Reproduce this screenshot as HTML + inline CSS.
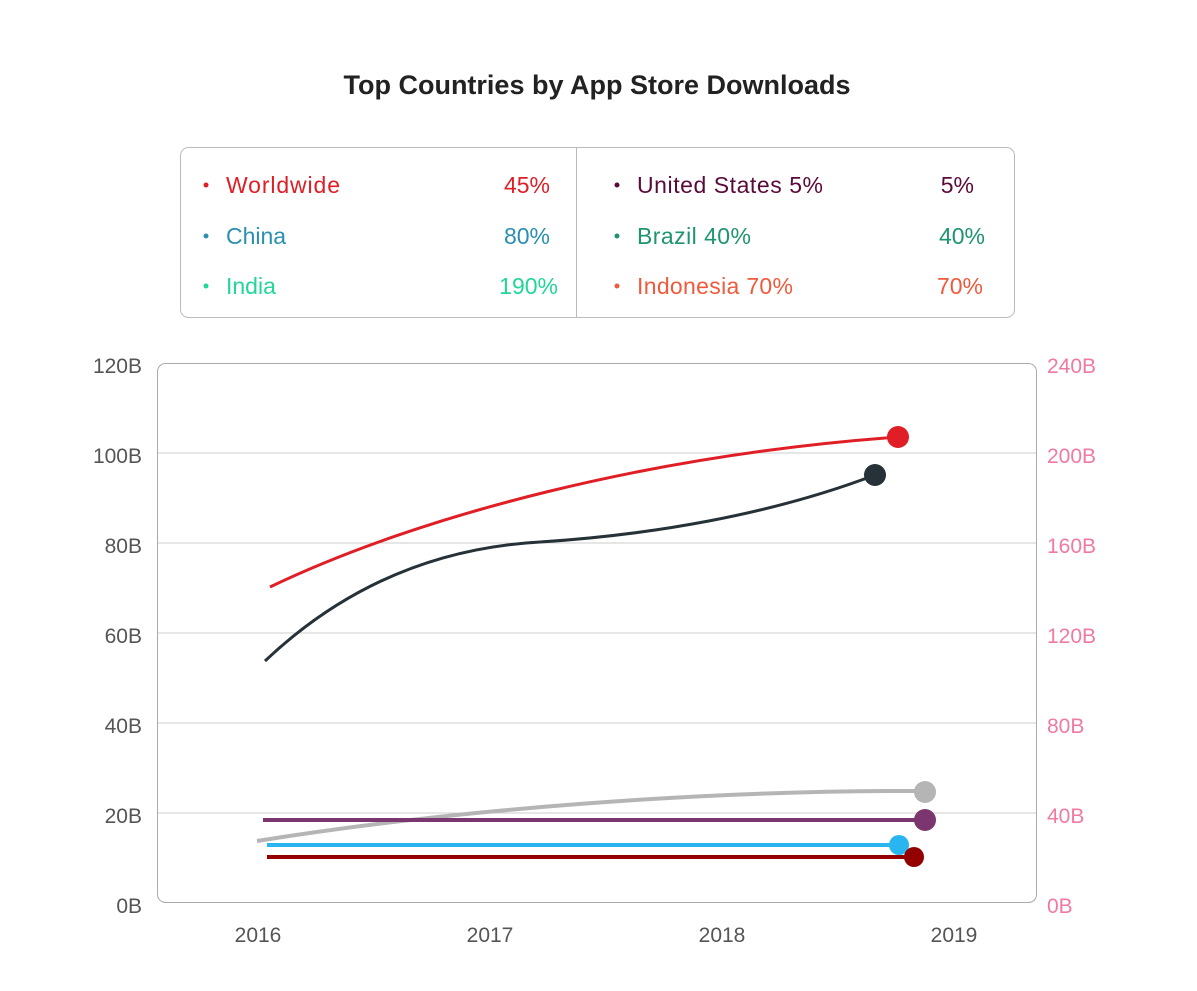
<!DOCTYPE html>
<html><head><style>
body{margin:0;background:#fff;font-family:"Liberation Sans",sans-serif;}
</style></head><body>
<svg width="1197" height="986" xmlns="http://www.w3.org/2000/svg" font-family="Liberation Sans, sans-serif">
<text x="597" y="94" text-anchor="middle" font-size="27" font-weight="bold" fill="#222">Top Countries by App Store Downloads</text>
<rect x="180.5" y="147.5" width="834" height="170" rx="8" fill="#fff" stroke="#bbb"/>
<line x1="576.5" y1="147" x2="576.5" y2="318" stroke="#bbb"/>
<g font-size="23">
<circle cx="206" cy="185" r="2.5" fill="#e01e26"/><text x="226" y="193" fill="#e01e26" textLength="114">Worldwide</text><text x="550" y="193" text-anchor="end" fill="#e01e26">45%</text>
<circle cx="206" cy="236" r="2.5" fill="#2a8fb0"/><text x="226" y="244" fill="#2a8fb0">China</text><text x="550" y="244" text-anchor="end" fill="#2a8fb0">80%</text>
<circle cx="206" cy="286" r="2.5" fill="#22d69a"/><text x="226" y="294" fill="#22d69a">India</text><text x="558" y="294" text-anchor="end" fill="#22d69a">190%</text>
<circle cx="617" cy="185" r="2.5" fill="#5a0a3a"/><text x="637" y="193" fill="#5a0a3a" textLength="186">United States 5%</text><text x="974" y="193" text-anchor="end" fill="#5a0a3a">5%</text>
<circle cx="617" cy="236" r="2.5" fill="#1e9470"/><text x="637" y="244" fill="#1e9470" textLength="114">Brazil 40%</text><text x="985" y="244" text-anchor="end" fill="#1e9470">40%</text>
<circle cx="617" cy="286" r="2.5" fill="#f05a3c"/><text x="637" y="294" fill="#f05a3c" textLength="156">Indonesia 70%</text><text x="983" y="294" text-anchor="end" fill="#f05a3c">70%</text>
</g>
<rect x="157.5" y="363.5" width="879" height="539" rx="8" fill="none" stroke="#aaa"/>
<g stroke="#ccc">
<line x1="158" y1="453" x2="1036" y2="453"/><line x1="158" y1="543" x2="1036" y2="543"/>
<line x1="158" y1="633" x2="1036" y2="633"/><line x1="158" y1="723" x2="1036" y2="723"/>
<line x1="158" y1="813" x2="1036" y2="813"/>
</g>
<g font-size="21" fill="#555" text-anchor="end">
<text x="142" y="373">120B</text><text x="142" y="463">100B</text><text x="142" y="553">80B</text>
<text x="142" y="643">60B</text><text x="142" y="733">40B</text><text x="142" y="823">20B</text><text x="142" y="913">0B</text>
</g>
<g font-size="21" fill="#f07aa0">
<text x="1047" y="373">240B</text><text x="1047" y="463">200B</text><text x="1047" y="553">160B</text>
<text x="1047" y="643">120B</text><text x="1047" y="733">80B</text><text x="1047" y="823">40B</text><text x="1047" y="913">0B</text>
</g>
<g font-size="21" fill="#555" text-anchor="middle">
<text x="258" y="942">2016</text><text x="490" y="942">2017</text><text x="722" y="942">2018</text><text x="954" y="942">2019</text>
</g>
<g fill="none" stroke-width="3">
<path d="M270 587 C420 515 650 455 898 437" stroke="#e01e26"/>
<path d="M265 661 C340 590 430 548 540 542 C650 535 770 515 875 475" stroke="#263238"/>
<path d="M257 841 C450 810 700 790 925 791" stroke="#b5b5b5" stroke-width="4"/>
<line x1="263" y1="820" x2="925" y2="820" stroke="#7b3670" stroke-width="4"/>
<line x1="267" y1="845" x2="898" y2="845" stroke="#29b6f0" stroke-width="4"/>
<line x1="267" y1="857" x2="913" y2="857" stroke="#940000" stroke-width="4"/>
</g>
<circle cx="898" cy="437" r="11" fill="#e01e26"/>
<circle cx="875" cy="475" r="11" fill="#263238"/>
<circle cx="925" cy="792" r="11" fill="#b5b5b5"/>
<circle cx="925" cy="820" r="11" fill="#7b3670"/>
<circle cx="899" cy="845" r="10" fill="#29b6f0"/>
<circle cx="914" cy="857" r="10" fill="#940000"/>
</svg>
</body></html>
